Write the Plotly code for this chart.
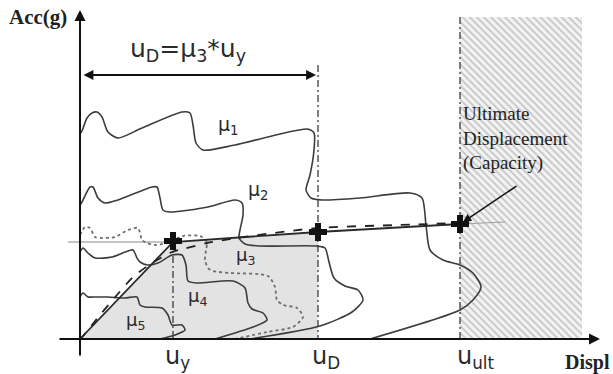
import plotly.graph_objects as go

# Schematic coordinates (pixel-like data units: x to the right, y downwards)
mu1_x = [80, 82, 87, 92, 97, 102, 108, 118, 142, 182, 190, 193, 196, 203, 235, 307, 314, 314, 310, 306, 311, 322, 360, 410, 422, 426, 430, 443, 460, 473, 481, 473, 460, 370]
mu1_y = [134, 131, 118, 113, 112, 117, 132, 138, 128, 112, 113, 125, 143, 150, 145, 129, 133, 150, 175, 190, 198, 200, 198, 193, 198, 225, 250, 260, 265, 273, 287, 300, 310, 339]

mu2_x = [80, 82, 90, 93, 98, 105, 118, 152, 157, 160, 163, 170, 208, 235, 242, 243, 240, 239, 245, 260, 316, 325, 329, 334, 345, 358, 363, 352, 320, 250]
mu2_y = [205, 202, 187, 187, 198, 203, 200, 187, 187, 198, 210, 212, 207, 200, 203, 215, 230, 238, 244, 246, 246, 248, 262, 278, 286, 290, 300, 312, 326, 339]

mu3_x = [80, 85, 90, 95, 102, 115, 128, 138, 142, 147, 155, 167, 183, 200, 207, 206, 205, 208, 213, 230, 268, 275, 277, 283, 297, 303, 293, 267, 235]
mu3_y = [235, 227, 228, 237, 238, 237, 230, 228, 240, 243, 245, 243, 236, 236, 242, 250, 260, 268, 271, 273, 276, 287, 300, 305, 308, 317, 327, 332, 339]

mu4_x = [80, 83, 88, 95, 112, 125, 133, 137, 140, 148, 158, 172, 182, 186, 188, 197, 233, 245, 248, 252, 263, 267, 253, 215]
mu4_y = [252, 248, 253, 258, 257, 252, 250, 258, 262, 265, 263, 255, 255, 265, 281, 283, 281, 288, 303, 309, 313, 320, 327, 339]

mu5_x = [80, 83, 88, 93, 108, 125, 137, 140, 145, 162, 168, 172, 182, 185, 175, 160]
mu5_y = [297, 293, 297, 297, 297, 298, 297, 305, 307, 308, 315, 325, 325, 330, 335, 339]

cap_x = [80, 173, 318, 460]
cap_y = [339, 242, 232, 224]
dash_x = [80, 100, 117, 133, 152, 172, 183, 207, 237, 317, 400, 460]
dash_y = [340, 315, 295, 277, 263, 252, 249, 243, 238, 228, 225, 223]

pts_x = [173, 318, 460]
pts_y = [241, 232, 224]
tick_text = ["u<sub>y</sub>", "u<sub>D</sub>", "u<sub>ult</sub>"]
tick_shift = [4, 8, 16]

DARK = "#3c3c3c"
DASHDOT = "7px,3px,2px,3px"
fig = go.Figure()

# hatched capacity region
fig.add_trace(go.Scatter(x=[460, 582, 582, 460, 460], y=[17, 17, 339, 339, 17], mode="lines",
                         fill="toself", fillcolor="rgba(0,0,0,0)", line=dict(width=0),
                         fillpattern=dict(shape="\\", fgcolor="#9a9a9a", bgcolor="#f3f3f3",
                                          size=5, solidity=0.35),
                         hoverinfo="skip", showlegend=False))
# gray region under capacity up to uD
fig.add_trace(go.Scatter(x=[80, 173, 318, 318, 80], y=[339, 242, 232, 339, 339], mode="lines",
                         fill="toself", fillcolor="#e3e3e3", line=dict(width=0),
                         hoverinfo="skip", showlegend=False))

def line(x, y, color=DARK, width=1.6, dash="solid", shape="spline"):
    fig.add_trace(go.Scatter(x=x, y=y, mode="lines",
                             line=dict(color=color, width=width, dash=dash, shape=shape,
                                       smoothing=0.7 if shape == "spline" else None),
                             hoverinfo="skip", showlegend=False))

# guide lines
line([68, 173], [242, 242], color="#8a8a8a", width=1.2, shape="linear")
line([460, 505], [224, 222], color="#a0a0a0", width=1.2, shape="linear")
line([173, 173], [241, 339], color=DARK, width=1.3, dash=DASHDOT, shape="linear")
line([318, 318], [65, 339], color=DARK, width=1.3, dash=DASHDOT, shape="linear")
line([460, 460], [17, 339], color=DARK, width=1.3, dash=DASHDOT, shape="linear")

# response curves
line(mu1_x, mu1_y)
line(mu2_x, mu2_y)
line(mu3_x, mu3_y, color="#6e6e6e", width=1.8, dash="dot")
line(mu4_x, mu4_y)
line(mu5_x, mu5_y)

# capacity curves
line(cap_x, cap_y, color="#2a2a2a", width=1.8, shape="linear")
line(dash_x, dash_y, color="#222222", width=1.8, dash="dash")

fig.add_trace(go.Scatter(x=pts_x, y=pts_y, mode="markers",
                         marker=dict(symbol="cross", size=15, color="#111111"),
                         hoverinfo="skip", showlegend=False))

ann = []
def arrow(x0, y0, x1, y1, side="end", width=1.8, head=2):
    ann.append(dict(x=x1, y=y1, ax=x0, ay=y0, xref="x", yref="y", axref="x", ayref="y",
                    showarrow=True, arrowhead=head, arrowsize=1.1, arrowwidth=width,
                    arrowcolor="#111111", arrowside=side, text=""))

# axes
arrow(80, 357, 80, 10, width=2)
arrow(58, 339, 600, 339, width=2)
# dimension arrow
arrow(82, 75, 316, 75, side="end+start", width=1.8)
# capacity pointer
arrow(518, 185, 463, 222, width=1.5)

def text(x, y, s, size=18, family="DejaVu Sans, Arial", color="#2b2b2b", xanchor="center", align="center"):
    ann.append(dict(x=x, y=y, xref="x", yref="y", text=s, showarrow=False, align=align,
                    font=dict(size=size, family=family, color=color), xanchor=xanchor, yanchor="middle"))

text(38, 17, "<b>Acc(g)</b>", size=21, family="Liberation Serif", color="#222222")
text(587, 362, "<b>Displ</b>", size=20, family="Liberation Serif", color="#222222")
text(188, 50, "u<sub>D</sub>=μ<sub>3</sub>*u<sub>y</sub>", size=25)
for tx, tt, sh in zip(pts_x, tick_text, tick_shift):
    text(tx + sh, 357, tt, size=24)
text(228, 125, "μ<sub>1</sub>", size=19)
text(258, 190, "μ<sub>2</sub>", size=19)
text(245, 256, "μ<sub>3</sub>", size=18)
text(197, 297, "μ<sub>4</sub>", size=18)
text(135, 321, "μ<sub>5</sub>", size=18)
text(461, 138, "Ultimate<br>Displacement<br>(Capacity)", size=19, family="Liberation Serif",
     color="#222222", xanchor="left", align="left")

fig.update_layout(
    width=613, height=374, margin=dict(l=0, r=0, t=0, b=0),
    paper_bgcolor="white", plot_bgcolor="white",
    xaxis=dict(range=[0, 613], visible=False, fixedrange=True),
    yaxis=dict(range=[374, 0], visible=False, fixedrange=True),
    annotations=ann, showlegend=False,
)
fig.write_html("out.html")
